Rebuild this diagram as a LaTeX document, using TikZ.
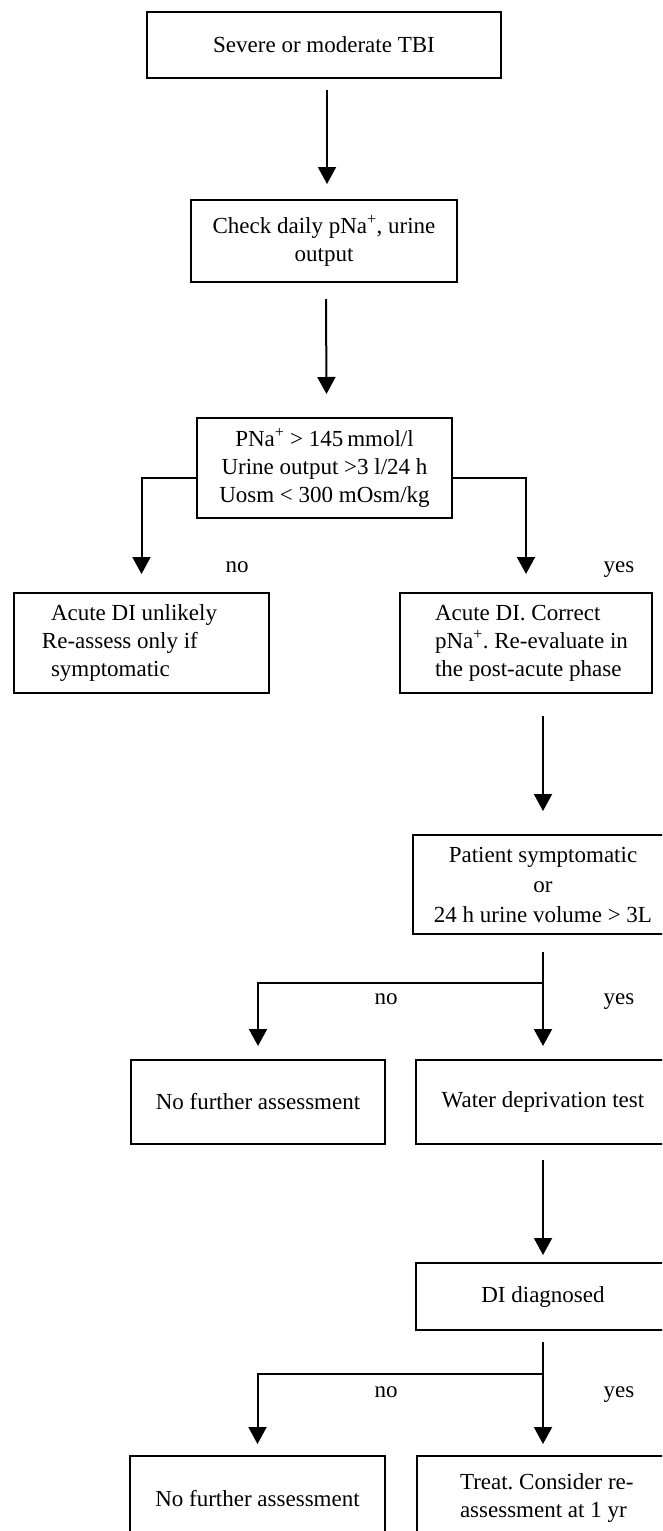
\documentclass[tikz,border=0pt]{standalone}
\usepackage{fontspec}
\setmainfont{Liberation Serif}
\usetikzlibrary{arrows.meta,positioning}
\tikzset{
  box/.style={draw, line width=2pt, rectangle, inner sep=0pt, align=center,
    font=\fontsize{23}{28}\selectfont\frenchspacing},
  arr/.style={line width=2pt, -{Triangle[length=17pt,width=18pt]}},
  ln/.style={line width=2pt},
  lbl/.style={font=\fontsize{23}{28}\selectfont, inner sep=0pt, anchor=base}
}
\begin{document}
\begin{tikzpicture}[x=1pt,y=-1pt]
\useasboundingbox (0,0) rectangle (662,1531);
\clip (0,0) rectangle (662,1531);

\node[box, minimum width=354, minimum height=66] (b1) at (324,45) {Severe or moderate TBI};
\node[box, minimum width=266, minimum height=82] (b2) at (324,241)
  {Check daily pNa\textsuperscript{+}, urine\\output};
\node[box, minimum width=255, minimum height=100] (b3) at (324.5,468)
  {PNa\textsuperscript{+} > 145\,mmol/l\\Urine output >3 l/24 h\\Uosm < 300 mOsm/kg};
\node[box, text width=255, minimum height=100, align=flush left] (b4) at (141.5,643)
  {\hspace*{37pt}Acute DI unlikely\\\hspace*{28pt}Re-assess only if\\\hspace*{37pt}symptomatic};
\node[box, text width=252, minimum height=100, align=flush left] (b5) at (526,643)
  {\hspace*{35pt}Acute DI. Correct\\\hspace*{35pt}pNa\textsuperscript{+}. Re-evaluate in\\\hspace*{35pt}the post-acute phase};
\node[box, minimum width=260, minimum height=99, font=\fontsize{23}{30}\selectfont] (b6) at (543,884.5)
  {Patient symptomatic\\or\\24 h urine volume > 3L};
\node[box, minimum width=254, minimum height=84] (b7) at (258,1102) {No further assessment};
\node[box, minimum width=254, minimum height=84] (b8) at (543,1102) {Water deprivation test};
\node[box, minimum width=254, minimum height=67] (b9) at (543,1296.5) {DI diagnosed};
\node[box, minimum width=255, minimum height=84] (b10) at (257.5,1498) {No further assessment};
\node[box, text width=258, minimum height=84, align=flush left] (b11) at (546,1498)
  {\hspace*{43pt}Treat. Consider re-\\\hspace*{43pt}assessment at 1 yr};

\coordinate (j1) at (543,983);
\coordinate (j2) at (543,1374);

\draw[arr] ([xshift=3pt,yshift=-11pt]b1.south) -- ([xshift=3pt,yshift=15pt]b2.north);
\draw[arr] ([xshift=2pt,yshift=-16pt]b2.south) -- ([xshift=2pt,yshift=23pt]b3.north);
\draw[arr] ([yshift=-10pt]b3.west) -| ([yshift=18pt]b4.north);
\draw[arr] ([yshift=-10pt]b3.east) -| ([yshift=18pt]b5.north);
\draw[arr] ([yshift=-22pt]b6.north |- b5.south) -- ([yshift=23pt]b6.north);
\draw[ln] ([yshift=-17pt]b6.south) -- (j1);
\draw[arr] (j1) -- ([yshift=13pt]b8.north);
\draw[arr] (j1) -| ([yshift=13pt]b7.north);
\draw[arr] ([yshift=-15pt]b8.south) -- ([yshift=7pt]b9.north);
\draw[ln] ([yshift=-11pt]b9.south) -- (j2);
\draw[arr] (j2) -- ([yshift=11pt]j2 |- b11.north);
\draw[arr] (j2) -| ([yshift=11pt]b10.north);

\node[lbl] (n1) at (237,572) {no};
\node[lbl] (y1) at (619,572) {yes};
\node[lbl] (n2) at (386,1004) {no};
\node[lbl] (y2) at (619,1004) {yes};
\node[lbl] (n3) at (386,1397) {no};
\node[lbl] (y3) at (619,1397) {yes};
\end{tikzpicture}
\end{document}
